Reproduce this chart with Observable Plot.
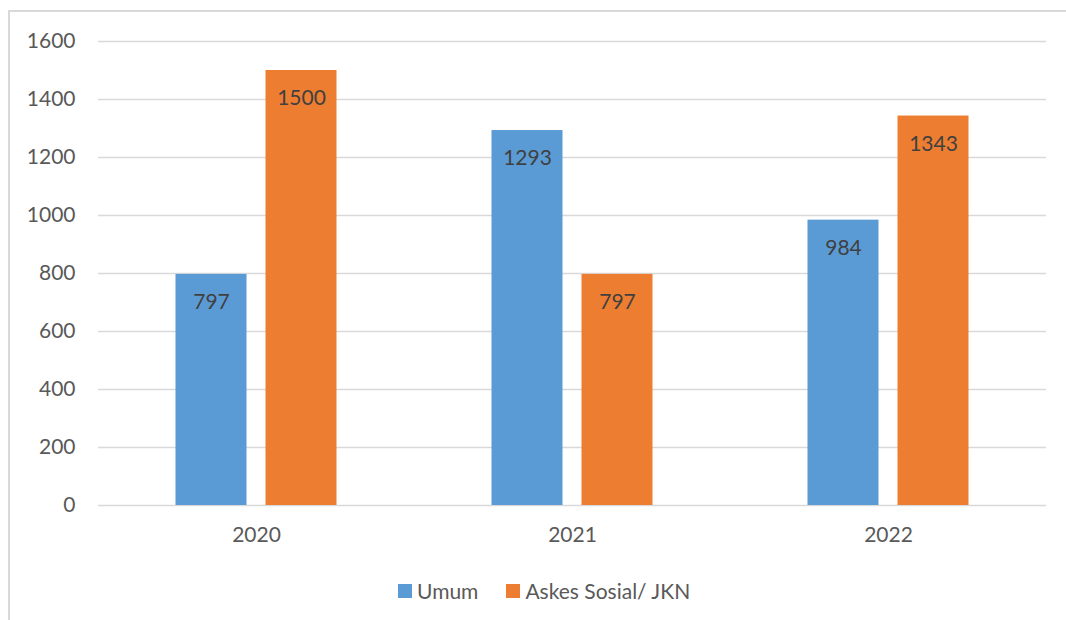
<!DOCTYPE html>
<html>
<head>
<meta charset="utf-8">
<script src="https://cdn.jsdelivr.net/npm/d3@7"></script>
<script src="https://cdn.jsdelivr.net/npm/@observablehq/plot@0.6"></script>
<style>
  html, body { margin: 0; padding: 0; background: #fff; width: 1066px; height: 620px; overflow: hidden; }
  #frame { position: absolute; left: 8px; top: 10px; width: 1080px; height: 640px; border: 2px solid #d9d9d9; box-sizing: border-box; }
  #chart { position: absolute; left: 0; top: 0; }
  #legend { position: absolute; left: 398px; top: 578px; display: flex; align-items: center; font-family: Lato, "Open Sans", sans-serif; font-size: 21px; color: #595959; }
  .item { display: flex; align-items: center; margin-right: 28px; }
  .sw { width: 14px; height: 14px; margin-right: 5px; }
</style>
</head>
<body>
<div id="frame"></div>
<div id="chart"></div>
<div id="legend"></div>
<script>
const years = ["2020", "2021", "2022"];
const seriesNames = ["Umum", "Askes Sosial/ JKN"];
const umum = [797, 1293, 984];
const askes = [1500, 797, 1343];
const colors = ["#5B9BD5", "#ED7D31"];
const yTicks = [0, 200, 400, 600, 800, 1000, 1200, 1400, 1600];

const rows = [];
years.forEach((y, i) => {
  rows.push({year: y, series: seriesNames[0], value: umum[i]});
  rows.push({year: y, series: seriesNames[1], value: askes[i]});
});

const chart = Plot.plot({
  width: 1066,
  height: 560,
  marginLeft: 98,
  marginRight: 20,
  marginTop: 41,
  marginBottom: 55,
  style: {fontFamily: "Lato, 'Open Sans', sans-serif", fontSize: "21px", color: "#595959", background: "transparent"},
  fx: {domain: years, paddingInner: 0, paddingOuter: 0, label: null},
  x: {domain: seriesNames, paddingInner: 19 / 90, paddingOuter: 0.861, round: false, axis: null},
  y: {domain: [0, 1600], ticks: yTicks, label: null},
  color: {domain: seriesNames, range: colors},
  marks: [
    Plot.gridY(yTicks, {stroke: "#d9d9d9", strokeOpacity: 1, strokeWidth: 1.5}),
    Plot.axisY(yTicks, {tickSize: 0, tickPadding: 23, fill: "#595959", fontSize: 21, label: null, tickFormat: d => String(d)}),
    Plot.axisFx({anchor: "bottom", tickSize: 0, tickPadding: 22, fill: "#595959", fontSize: 21, label: null}),
    Plot.barY(rows, {fx: "year", x: "series", y: "value", fill: "series"}),
    Plot.text(rows, {fx: "year", x: "series", y: "value", text: d => String(d.value), dy: 28, fill: "#404040", fontSize: 21})
  ]
});
document.getElementById("chart").appendChild(chart);

const legend = document.getElementById("legend");
seriesNames.forEach((s, i) => {
  const it = document.createElement("div");
  it.className = "item";
  const sw = document.createElement("span");
  sw.className = "sw";
  sw.style.background = colors[i];
  const tx = document.createElement("span");
  tx.textContent = s;
  it.appendChild(sw);
  it.appendChild(tx);
  legend.appendChild(it);
});
</script>
</body>
</html>
